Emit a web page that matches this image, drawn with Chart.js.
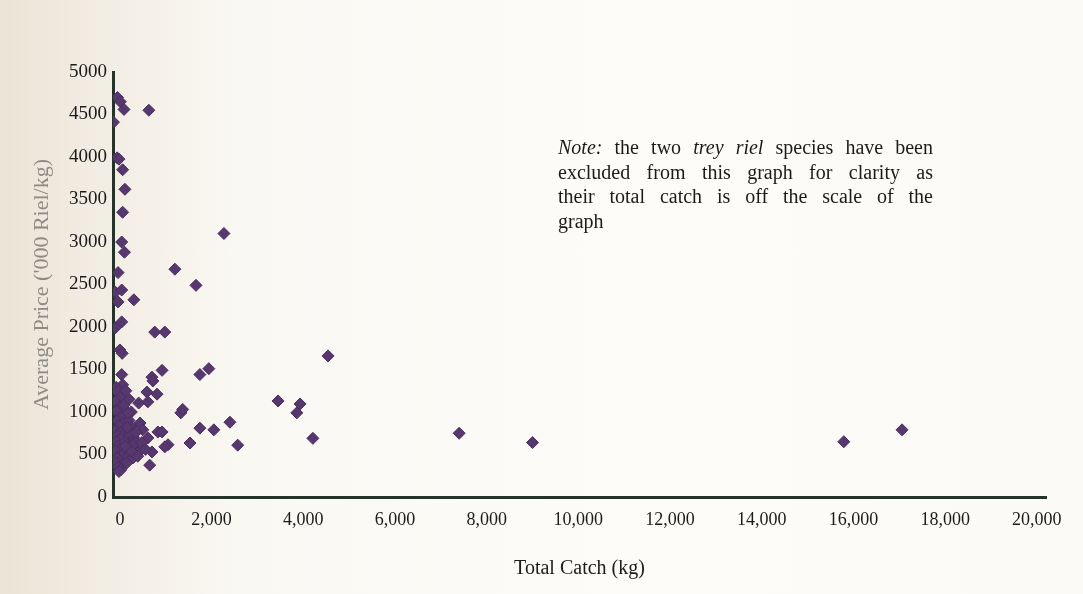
<!DOCTYPE html>
<html>
<head>
<meta charset="utf-8">
<script src="https://cdn.jsdelivr.net/npm/chart.js@4/dist/chart.umd.min.js"></script>
<style>
  html, body { margin: 0; padding: 0; }
  body {
    width: 1083px; height: 594px; overflow: hidden; position: relative;
    background: linear-gradient(to right, #ebe3d5 0%, #f2ede3 9%, #faf8f3 22%, #fdfcf9 60%, #fbfaf7 100%);
  }
  #wrap { position: absolute; left: 0; top: 0; width: 1083px; height: 594px; }
  #note {
    position: absolute; left: 558px; top: 135px; width: 375px;
    font: 20px "Liberation Serif", "Times New Roman", serif;
    line-height: 24.7px; color: #1b1b1b;
  }
  #note div { text-align: justify; text-align-last: justify; white-space: nowrap; }
  #note div:last-child { text-align-last: left; }
  #note i { font-style: italic; }
</style>
</head>
<body>
<div id="wrap"><canvas id="chart-scatter" width="1083" height="594"></canvas></div>
<div id="note">
  <div><i>Note:</i> the two <i>trey riel</i> species have been</div>
  <div>excluded from this graph for clarity as</div>
  <div>their total catch is off the scale of the</div>
  <div>graph</div>
</div>
<script>
// species: total catch (kg) and average price ('000 Riel/kg)
const catchKg = [
  -50, 10, 90, -140, 632,
  -60, -20, 60, 110, 60, 40, 100, -40, -100, 40, -40, 305, 2270, 1200, 1660,
  40, -100, 760, 980, 0, 50, 920, 700, 1745, 1940, 40, 60, 4540,
  -80, -60, 20, -100, 0, -80, 120, 40, -60, 80, -20, 140, -100, 30, 100, -60, 160, 20,
  -80, 110, 60, -40, 180, 0, -100, 80, 200, 30, -60, 120, 0, -80, 60, -40, 20, -20,
  200, 250, 300, 350, 220, 330, 250, 400, 200,
  720, 590, 810, 410, 610, 175, 440, 500, 830, 610, 700, 650, 285, 285, 150, 390,
  350, 480, 560, 250, 120, 160, 90, 130,
  1330, 1370, 1745, 2050, 2400, 2570, 1530, 1050, 980, 920,
  3450, 3930, 3860, 4210, 7400, 9000, 15790, 17060,
]
const avgPrice = [
  4700, 4650, 4560, 4410, 4550,
  3990, 3975, 3850, 3620, 3350, 3000, 2880, 2640, 2410, 2435, 2295, 2320, 3100, 2680, 2490,
  2060, 1990, 1940, 1940, 1730, 1690, 1490, 1410, 1440, 1510, 1440, 1320, 1660,
  1290, 1240, 1180, 1120, 1060, 1010, 970, 940, 900, 870, 840, 800, 780, 760, 740, 720, 700, 680,
  650, 640, 620, 600, 580, 560, 540, 520, 500, 480, 460, 440, 420, 400, 380, 350, 320, 300,
  900, 820, 700, 650, 760, 580, 1000, 520, 1150,
  1365, 1235, 1210, 1105, 1120, 990, 870, 790, 765, 695, 530, 375, 610, 460, 400, 480,
  760, 640, 560, 540, 600, 820, 1080, 1250,
  990, 1030, 810, 790, 880, 610, 635, 615, 590, 765,
  1130, 1095, 990, 690, 750, 640, 650, 790,
]
const xTickValues = [0, 2000, 4000, 6000, 8000, 10000, 12000, 14000, 16000, 18000, 20000]
const yTickValues = [0, 500, 1000, 1500, 2000, 2500, 3000, 3500, 4000, 4500, 5000]

const points = catchKg.map((x, i) => ({ x, y: avgPrice[i] }))
const serif = '"Liberation Serif", "Times New Roman", serif'

new Chart(document.getElementById('chart-scatter'), {
  type: 'scatter',
  data: {
    datasets: [{
      label: 'Species',
      data: points,
      pointStyle: 'rectRot',
      pointRadius: 6,
      pointHoverRadius: 6,
      backgroundColor: '#56386f',
      borderColor: '#4a2c63',
      borderWidth: 1,
    }],
  },
  options: {
    responsive: false,
    animation: false,
    devicePixelRatio: 1,
    layout: { padding: { left: 0, right: 37, top: 72, bottom: 0 } },
    plugins: { legend: { display: false }, tooltip: { enabled: false } },
    scales: {
      x: {
        type: 'linear', min: -150, max: 20200,
        afterBuildTicks: s => { s.ticks = xTickValues.map(v => ({ value: v })) },
        afterFit: s => { s.height = 97 },
        grid: { display: false, drawTicks: false },
        border: { display: true, color: '#25332b', width: 3 },
        ticks: {
          padding: 12, color: '#1b1b1b', maxRotation: 0, autoSkip: false,
          font: { family: serif, size: 18 },
          callback: v => v.toLocaleString('en-US'),
        },
        title: {
          display: true, text: 'Total Catch (kg)', color: '#1b1b1b',
          font: { family: serif, size: 20 }, padding: { top: 0, bottom: 13 },
        },
      },
      y: {
        type: 'linear', min: 0, max: 5000,
        afterBuildTicks: s => { s.ticks = yTickValues.map(v => ({ value: v })) },
        afterFit: s => { s.width = 113 },
        grid: { display: false, drawTicks: false },
        border: { display: true, color: '#25332b', width: 3 },
        ticks: {
          padding: 6, color: '#1b1b1b', autoSkip: false,
          font: { family: serif, size: 19 },
          callback: v => String(v),
        },
        title: {
          display: true, text: "Average Price ('000 Riel/kg)", color: '#8e8a84',
          font: { family: serif, size: 22 }, padding: { top: 29, bottom: 0 },
        },
      },
    },
  },
})
</script>
</body>
</html>
